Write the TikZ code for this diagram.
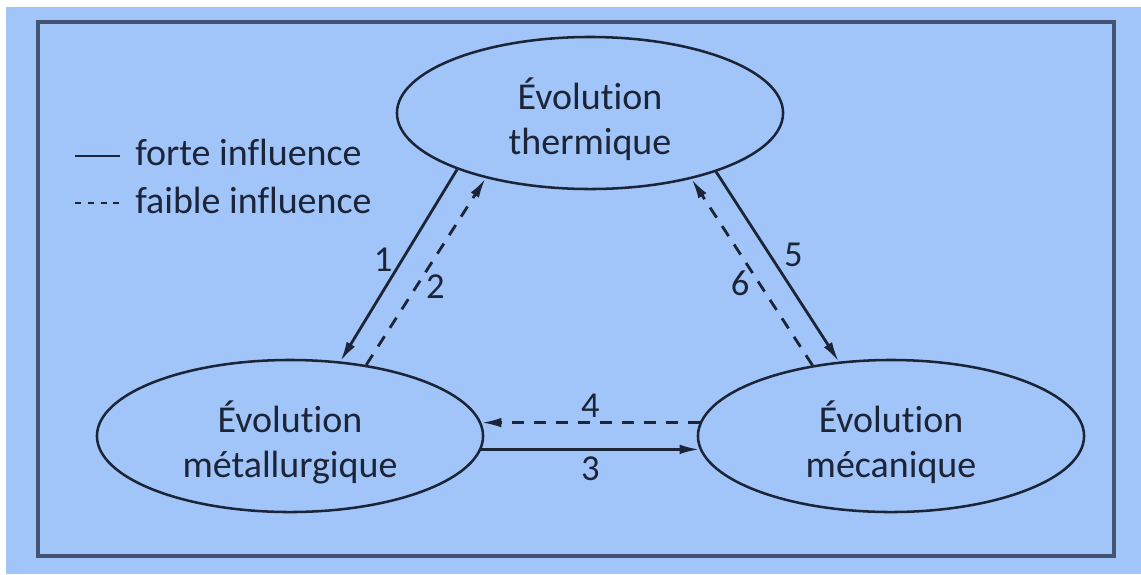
\documentclass[tikz,border=0pt]{standalone}
\usepackage{fontspec}
\setmainfont{Carlito}[Ligatures=NoCommon]
\usetikzlibrary{shapes.geometric,arrows.meta}

\definecolor{bgblue}{RGB}{161,197,248}
\definecolor{inkdark}{RGB}{28,36,56}
\definecolor{framegray}{RGB}{66,84,114}

\begin{document}
\begin{tikzpicture}[
    x=0.025cm, y=-0.025cm,
    % Define ellipse style
    evol/.style={ellipse, draw=inkdark, line width=1.8pt, minimum width=9.65cm, minimum height=3.8cm,
        inner sep=0pt, align=center, text height=64pt, font=\fontsize{27}{32.5}\selectfont, text=inkdark},
    % Define influence styles
    forte/.style={draw=inkdark, line width=2pt, -{Latex[length=0.5cm,width=0.24cm]}},
    faible/.style={forte, dash pattern=on 0.3cm off 0.25cm},
    numlabel/.style={font=\fontsize{26}{30}\selectfont, text=inkdark, inner sep=6pt},
    legend/.style={anchor=base west, font=\fontsize{27}{32}\selectfont, text=inkdark, inner sep=0pt}
]

% Background and frame
\fill[white] (0,0) rectangle (1141,574);
\fill[bgblue] (6,7) rectangle (1141,574);
\useasboundingbox (0,0) rectangle (1141,574);
\draw[framegray, line width=2.4pt] (38,22) rectangle (1114,556);

% The three evolutions
\node[evol] (thermique) at (590,113) {Évolution\\thermique};
\node[evol] (metal) at (290,436) {Évolution\\métallurgique};
\node[evol] (meca) at (891,436) {Évolution\\mécanique};

% Thermique <-> metallurgique
\draw[forte] (thermique.203.5) -- node[numlabel, pos=0.47, left] {1} (metal.56.8);
\draw[faible] (metal.43.5) -- node[numlabel, pos=0.42, right] {2} (thermique.212);

% Metallurgique <-> mecanique
\draw[forte] (metal.-4) -- node[numlabel, below, inner sep=4pt] {3} (meca.184);
\draw[faible] (meca.176) -- node[numlabel, above, inner sep=3pt] {4} (metal.4);

% Thermique <-> mecanique
\draw[forte] (thermique.335.5) -- node[numlabel, pos=0.44, right, xshift=3pt] {5} (meca.125);
\draw[faible] (meca.138.3) -- node[numlabel, pos=0.44, left] {6} (thermique.327.6);

% Legend
\coordinate (forteA) at (75,156);
\coordinate (forteB) at (120,156);
\coordinate (faibleA) at (75,203);
\coordinate (faibleB) at (120,203);
\draw[inkdark, line width=2pt] (forteA) -- (forteB);
\draw[inkdark, line width=2pt, dash pattern=on 0.15cm off 0.17cm] (faibleA) -- (faibleB);
\node[legend] (forteTxt) at (135,165) {forte influence};
\node[legend] (faibleTxt) at (135,213) {faible influence};

\end{tikzpicture}
\end{document}
